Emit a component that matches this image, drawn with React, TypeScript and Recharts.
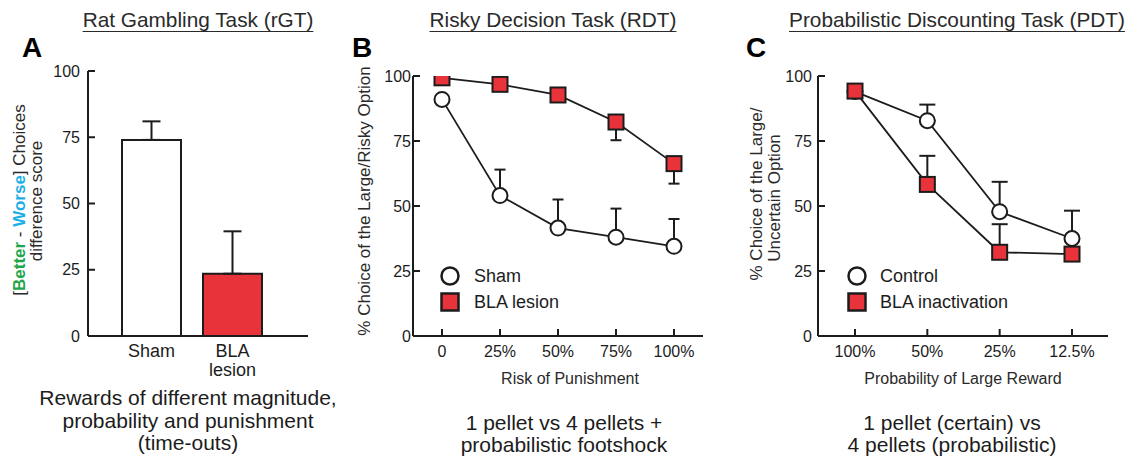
import React from "react";
import { ComposedChart, Bar, Line, XAxis, YAxis, ErrorBar, Cell, Legend } from "recharts";

const FONT = "'Liberation Sans', Arial, Helvetica, sans-serif";
const INK = "#1c1c1c";
const TEXT = "#2a2a2a";
const RED = "#e8333b";

// A: rat gambling task
const rgtGroups = ["Sham", "BLA\nlesion"];
const rgtScore = [74, 23.5];
const rgtSem = [7, 16];

// B: risky decision task
const rdtRisk = ["0", "25%", "50%", "75%", "100%"];
const rdtSham = [91, 54, 41.5, 38, 34.5];
const rdtShamSem = [0, 10, 11, 11, 10.5];
const rdtBla = [99.3, 96.8, 92.7, 82.3, 66.3];
const rdtBlaSem = [0, 0, 0, 7, 7.7];

// C: probabilistic discounting task
const pdtProb = ["100%", "50%", "25%", "12.5%"];
const pdtControl = [94, 82.8, 47.8, 37.5];
const pdtControlSem = [0, 6.2, 11.5, 10.7];
const pdtBla = [94.2, 58.3, 32.2, 31.5];
const pdtBlaSem = [0, 11, 10.8, 0];

const yTicks = [0, 25, 50, 75, 100];

const rgtData = rgtGroups.map((group, i) => ({
  group,
  score: rgtScore[i],
  err: [0, rgtSem[i]],
}));
const rdtData = rdtRisk.map((risk, i) => ({
  risk,
  sham: rdtSham[i],
  shamErr: [0, rdtShamSem[i]],
  bla: rdtBla[i],
  blaErr: [rdtBlaSem[i], 0],
}));
const pdtData = pdtProb.map((prob, i) => ({
  prob,
  control: pdtControl[i],
  controlErr: [0, pdtControlSem[i]],
  bla: pdtBla[i],
  blaErr: [0, pdtBlaSem[i]],
}));

const axisLine = { stroke: INK, strokeWidth: 2 };
const tickFont = { fill: INK, fontSize: 16, fontFamily: FONT };

const yAxis = (margin: number) => (
  <YAxis
    type="number"
    domain={[0, 100]}
    ticks={yTicks}
    interval={0}
    allowDataOverflow
    width={40}
    tickSize={-7}
    tickMargin={margin}
    axisLine={axisLine}
    tickLine={axisLine}
    tick={tickFont}
  />
);

const OpenCircle = (p: any) =>
  p.cx == null ? null : (
    <circle key={`c${p.index}`} cx={p.cx} cy={p.cy} r={7.5} fill="#fff" stroke={INK} strokeWidth={2} />
  );
const RedSquare = (p: any) =>
  p.cx == null ? null : (
    <rect key={`s${p.index}`} x={p.cx - 7.5} y={p.cy - 7.5} width={15} height={15} fill={RED} stroke={INK} strokeWidth={2} />
  );

const GroupTick = ({ x, y, payload }: any) => {
  const lines = String(payload.value).split("\n");
  return (
    <text x={x} y={y} textAnchor="middle" fill={INK} fontSize={18} fontFamily={FONT}>
      {lines.map((l, i) => (
        <tspan key={i} x={x} dy={i === 0 ? "0.8em" : "1.05em"}>
          {l}
        </tspan>
      ))}
    </text>
  );
};

const LegendBox = ({ payload, gap }: any) => {
  // open-circle group first, as in the figure
  const items = [...(payload || [])].sort((a: any, b: any) => (a.dataKey === "bla" ? 1 : 0) - (b.dataKey === "bla" ? 1 : 0));
  return (
    <div style={{ fontSize: 18, color: INK, fontFamily: FONT }}>
      {items.map((e: any) => (
        <div key={e.value} style={{ display: "flex", alignItems: "center", height: 26 }}>
          <svg width={20} height={20}>
            {e.dataKey === "bla" ? (
              <rect x={1.5} y={1.5} width={17} height={17} fill={RED} stroke={INK} strokeWidth={2.5} />
            ) : (
              <circle cx={10} cy={10} r={8.5} fill="#fff" stroke={INK} strokeWidth={2.5} />
            )}
          </svg>
          <span style={{ marginLeft: gap }}>{e.value}</span>
        </div>
      ))}
    </div>
  );
};

export default function App() {
  return (
    <div
      style={{
        position: "fixed",
        left: 0,
        top: 0,
        width: 1135,
        height: 460,
        background: "#fff",
        fontFamily: FONT,
        overflow: "hidden",
      }}
    >
      {/* A */}
      <div style={{ position: "absolute", left: 0, top: 0 }}>
        <ComposedChart width={330} height={460} data={rgtData} margin={{ top: 71, right: 22, bottom: 94, left: 48 }}>
          <XAxis
            dataKey="group"
            height={30}
            padding={{ left: 23, right: 35 }}
            axisLine={axisLine}
            tickLine={false}
            tickSize={0}
            tickMargin={7}
            interval={0}
            tick={<GroupTick />}
          />
          {yAxis(15)}
          <Bar dataKey="score" barSize={59} stroke={INK} strokeWidth={2} isAnimationActive={false}>
            {rgtData.map((d, i) => (
              <Cell key={d.group} fill={i === 0 ? "#fff" : RED} />
            ))}
            <ErrorBar dataKey="err" direction="y" width={9} stroke={INK} strokeWidth={2} isAnimationActive={false} />
          </Bar>
        </ComposedChart>
      </div>

      {/* B */}
      <div style={{ position: "absolute", left: 370, top: 0 }}>
        <ComposedChart width={350} height={460} data={rdtData} margin={{ top: 76, right: 17, bottom: 94, left: 3 }}>
          <XAxis
            dataKey="risk"
            height={30}
            padding={{ left: 29, right: 29 }}
            axisLine={axisLine}
            tickLine={axisLine}
            tickSize={-7}
            tickMargin={17}
            interval={0}
            tick={tickFont}
          />
          {yAxis(9)}
          <Legend
            layout="vertical"
            align="center"
            verticalAlign="middle"
            wrapperStyle={{ left: 70, top: 263, width: 200 }}
            content={(props: any) => <LegendBox {...props} gap={14} />}
          />
          <Line
            name="Sham"
            dataKey="sham"
            type="linear"
            stroke={INK}
            strokeWidth={1.8}
            dot={OpenCircle}
            activeDot={false}
            isAnimationActive={false}
          >
            <ErrorBar dataKey="shamErr" direction="y" width={5.5} stroke={INK} strokeWidth={2} isAnimationActive={false} />
          </Line>
          <Line
            name="BLA lesion"
            dataKey="bla"
            type="linear"
            stroke={INK}
            strokeWidth={1.8}
            dot={RedSquare}
            activeDot={false}
            isAnimationActive={false}
          >
            <ErrorBar dataKey="blaErr" direction="y" width={5.5} stroke={INK} strokeWidth={2} isAnimationActive={false} />
          </Line>
        </ComposedChart>
      </div>

      {/* C */}
      <div style={{ position: "absolute", left: 740, top: 0 }}>
        <ComposedChart width={395} height={460} data={pdtData} margin={{ top: 76, right: 27, bottom: 94, left: 38 }}>
          <XAxis
            dataKey="prob"
            height={30}
            padding={{ left: 37, right: 36 }}
            axisLine={axisLine}
            tickLine={axisLine}
            tickSize={-7}
            tickMargin={17}
            interval={0}
            tick={tickFont}
          />
          {yAxis(13)}
          <Legend
            layout="vertical"
            align="center"
            verticalAlign="middle"
            wrapperStyle={{ left: 107, top: 263, width: 220 }}
            content={(props: any) => <LegendBox {...props} gap={13} />}
          />
          <Line
            name="Control"
            dataKey="control"
            type="linear"
            stroke={INK}
            strokeWidth={1.8}
            dot={OpenCircle}
            activeDot={false}
            isAnimationActive={false}
          >
            <ErrorBar dataKey="controlErr" direction="y" width={8} stroke={INK} strokeWidth={2} isAnimationActive={false} />
          </Line>
          <Line
            name="BLA inactivation"
            dataKey="bla"
            type="linear"
            stroke={INK}
            strokeWidth={1.8}
            dot={RedSquare}
            activeDot={false}
            isAnimationActive={false}
          >
            <ErrorBar dataKey="blaErr" direction="y" width={8} stroke={INK} strokeWidth={2} isAnimationActive={false} />
          </Line>
        </ComposedChart>
      </div>

      {/* titles */}
      {[
        { t: "Rat Gambling Task (rGT)", cx: 198 },
        { t: "Risky Decision Task (RDT)", cx: 553 },
        { t: "Probabilistic Discounting Task (PDT)", cx: 957 },
      ].map((d) => (
        <div
          key={d.t}
          style={{
            position: "absolute",
            left: d.cx - 200,
            width: 400,
            top: 10,
            lineHeight: "20px",
            fontSize: 20.8,
            textAlign: "center",
            color: TEXT,
            textDecoration: "underline",
            textUnderlineOffset: 4,
            textDecorationThickness: 1,
            whiteSpace: "nowrap",
          }}
        >
          {d.t}
        </div>
      ))}

      <svg width={1135} height={460} style={{ position: "absolute", left: 0, top: 0, pointerEvents: "none" }} fontFamily={FONT}>
        {/* panel letters */}
        <text x={22} y={57} fontSize={28} fontWeight="bold" fill="#000">A</text>
        <text x={352} y={57} fontSize={28} fontWeight="bold" fill="#000">B</text>
        <text x={746} y={57} fontSize={28} fontWeight="bold" fill="#000">C</text>

        {/* y labels */}
        <text transform="translate(19,200) rotate(-90)" textAnchor="middle" dominantBaseline="central" fontSize={17} fill={TEXT}>
          <tspan>[</tspan>
          <tspan fill="#1fa64a" fontWeight="bold">Better</tspan>
          <tspan> - </tspan>
          <tspan fill="#1eaee6" fontWeight="bold">Worse</tspan>
          <tspan>] Choices</tspan>
        </text>
        <text transform="translate(36,201) rotate(-90)" textAnchor="middle" dominantBaseline="central" fontSize={17} fill={TEXT}>
          difference score
        </text>
        <text transform="translate(364,201) rotate(-90)" textAnchor="middle" dominantBaseline="central" fontSize={17} fill={TEXT}>
          % Choice of the Large/Risky Option
        </text>
        <text transform="translate(756,194) rotate(-90)" textAnchor="middle" dominantBaseline="central" fontSize={17} fill={TEXT}>
          % Choice of the Large/
        </text>
        <text transform="translate(774,198) rotate(-90)" textAnchor="middle" dominantBaseline="central" fontSize={17} fill={TEXT}>
          Uncertain Option
        </text>

        {/* x labels */}
        <text x={570} y={384} textAnchor="middle" fontSize={16} fill={TEXT}>Risk of Punishment</text>
        <text x={963} y={384} textAnchor="middle" fontSize={16} fill={TEXT}>Probability of Large Reward</text>

        {/* task descriptions */}
        <text textAnchor="middle" fontSize={21} fill={INK}>
          <tspan x={188} y={405}>Rewards of different magnitude,</tspan>
          <tspan x={188} y={428}>probability and punishment</tspan>
          <tspan x={188} y={450}>(time-outs)</tspan>
        </text>
        <text textAnchor="middle" fontSize={21} fill={INK}>
          <tspan x={564} y={430}>1 pellet vs 4 pellets +</tspan>
          <tspan x={564} y={452}>probabilistic footshock</tspan>
        </text>
        <text textAnchor="middle" fontSize={21} fill={INK}>
          <tspan x={952} y={430}>1 pellet (certain) vs</tspan>
          <tspan x={952} y={452}>4 pellets (probabilistic)</tspan>
        </text>
      </svg>
    </div>
  );
}
